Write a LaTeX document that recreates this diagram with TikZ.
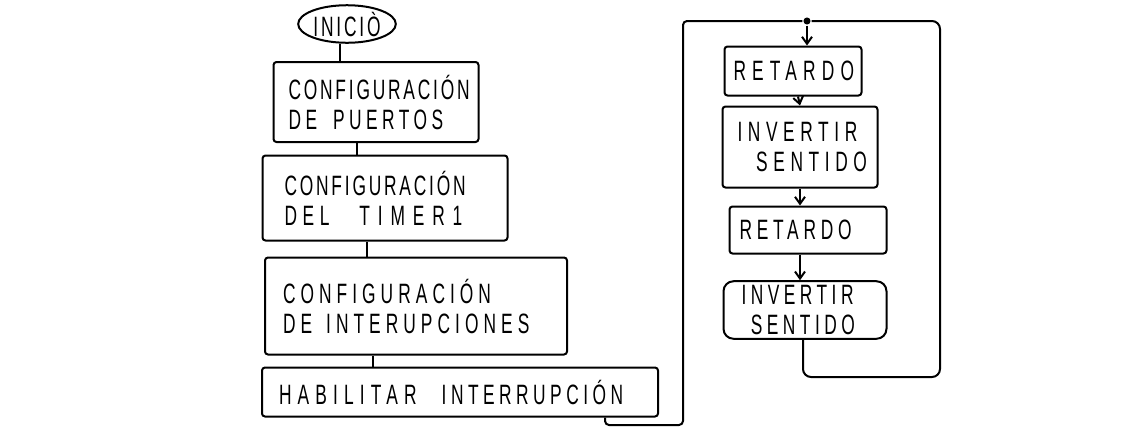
\documentclass[tikz,border=0pt]{standalone}
\usepackage{fontspec}
\setmainfont{Liberation Sans}[FakeStretch=0.62,LetterSpace=10]
\usetikzlibrary{shapes.geometric,arrows.meta}
\hyphenpenalty=10000
\newcommand{\espacio}[1]{\addfontfeature{LetterSpace=#1}}
\begin{document}
\begin{tikzpicture}[
        x=1pt, y=-1pt,
        line width=2pt,
        >={Straight Barb[length=7pt,width=10pt]},
        every node/.style={font=\fontsize{28}{30}\selectfont},
        caja/.style={draw, rectangle, rounded corners=3pt, align=left, inner xsep=12pt, inner ysep=4pt},
        inicio/.style={draw, ellipse, inner sep=1pt},
        punto/.style={circle, fill, inner sep=2.5pt}
    ]
    \useasboundingbox (0,0) rectangle (1127,437);
    % programa principal
    \node[inicio, minimum width=92, minimum height=34] (inicio) at (347,24) {INICIÒ};
    \node[caja, inner xsep=15pt, text width=175, minimum height=80] (puertos) at (376,102)
        {CONFIGURACIÓN\\{\espacio{16}DE}\hspace{16pt}{\espacio{16}PUERTOS}};
    \node[caja, inner xsep=22pt, text width=201, minimum height=85] (timer) at (385,198)
        {CONFIGURACIÓN\\{\espacio{20}DEL}\hspace{30pt}{\espacio{28}TIMER1}};
    \node[caja, inner xsep=18pt, text width=266, minimum height=97] (interrupciones) at (416,306)
        {\espacio{18}CONFIGURACIÓN\\DE\hspace{14pt}INTERUPCIONES};
    \node[caja, inner xsep=17pt, text width=362, minimum height=49] (habilitar) at (460,392)
        {\mbox{{\espacio{22}HABILITAR}\hspace{25pt}{\espacio{16}INTERRUPCIÓN}}};
    \draw ([xshift=-7]inicio.south) -- ([xshift=-36]puertos.north);
    \draw ([xshift=-19]puertos.south) -- ([xshift=-28]timer.north);
    \draw ([xshift=-18]timer.south) -- ([xshift=-49]interrupciones.north);
    \draw ([xshift=-43]interrupciones.south) -- ([xshift=-87]habilitar.north);
    % lazo infinito
    \node[punto] (lazo) at (807,21) {};
    \node[caja, inner xsep=9pt, text width=119, minimum height=49] (retardoA) at (793,71)
        {\espacio{22}RETARDO};
    \node[caja, inner xsep=15pt, text width=125, minimum height=81] (invertirA) at (800,147)
        {\espacio{20}INVERTIR\\\ \ SENTIDO};
    \node[caja, inner xsep=10pt, text width=137, minimum height=47] (retardoB) at (808,230)
        {\espacio{17}RETARDO};
    \node[caja, rounded corners=10pt, inner xsep=18pt, text width=127, minimum height=56] (invertirB) at (805,310)
        {\espacio{16}INVERTIR\\\ SENTIDO};
    \draw[->] (lazo) -- (lazo |- retardoA.north);
    \draw[->] ([xshift=5]retardoA.south) -- (invertirA.north);
    \draw[->] (invertirA.south) -- (invertirA.south |- retardoB.north);
    \draw[->] ([xshift=-8]retardoB.south) -- ([xshift=-5]invertirB.north);
    \draw[rounded corners=8pt] ([xshift=-2]invertirB.south) |- (940,377) |- (lazo);
    \draw[rounded corners=4pt] ([xshift=145]habilitar.south) |- (683,425) |- (lazo);
\end{tikzpicture}
\end{document}
